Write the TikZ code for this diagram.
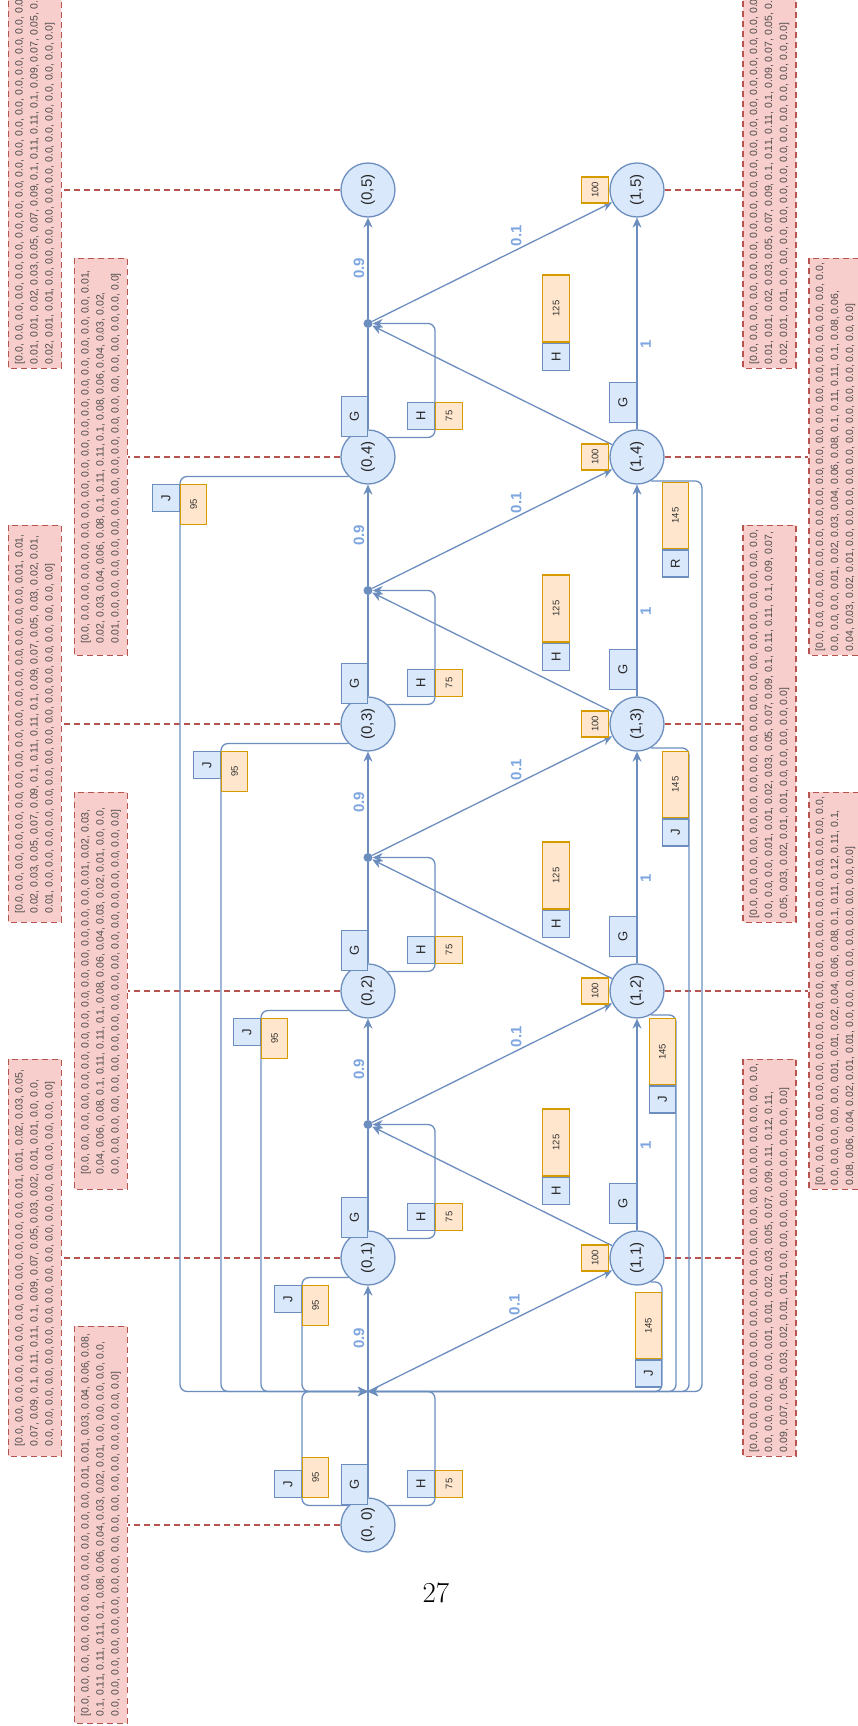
\documentclass[tikz,border=0pt]{standalone}
\usepackage{fontspec}
\newfontfamily\diafont{Liberation Sans}
\usetikzlibrary{arrows.meta,calc,positioning}

\definecolor{stfill}{HTML}{DAE8FC}
\definecolor{stline}{HTML}{6C8EBF}
\definecolor{costfill}{HTML}{FFE6CC}
\definecolor{costline}{HTML}{D79B00}
\definecolor{distfill}{HTML}{F8CECC}
\definecolor{distline}{HTML}{B85450}
\definecolor{probtext}{HTML}{7EA6E0}

% n entries 0.0 of a distribution
\newcommand\zz[1]{\foreach \i in {1,...,#1}{0.0, }}

\tikzset{
  state/.style={circle, draw=stline, fill=stfill, line width=1.3pt, minimum size=54pt, inner sep=0pt, text=black!85, font=\diafont\fontsize{15}{18}\selectfont},
  junct/.style={circle, fill=stline, inner sep=0pt, minimum size=9pt},
  wire/.style={draw=stline, line width=1.3pt, rounded corners=7pt},
  arr/.style={-{Stealth[length=10pt,width=9pt]}},
  actbox/.style={rectangle, draw=stline, fill=stfill, line width=1.3pt, inner sep=0pt, minimum width=27pt, minimum height=27pt, text=black!85, font=\diafont\fontsize{13}{15}\selectfont},
  costbox/.style={rectangle, draw=costline, fill=costfill, line width=1.3pt, inner sep=0pt, minimum width=27pt, minimum height=27pt, text=black!80, font=\diafont\fontsize{9.5}{11}\selectfont},
  prob/.style={text=probtext, inner sep=3pt, font=\diafont\bfseries\fontsize{15}{18}\selectfont},
  dist/.style={rectangle, draw=distline, fill=distfill, line width=1.1pt, dash pattern=on 6pt off 4pt, align=left, inner sep=3pt, minimum width=397pt, minimum height=53pt, text=black!70, font=\diafont\fontsize{10.5}{15}\selectfont},
  distlink/.style={draw=distline, line width=1.1pt, dash pattern=on 6pt off 4pt},
}

\begin{document}
\begin{tikzpicture}[x=1pt,y=1pt]
\fill[white] (-857,0) rectangle (0,1726);
\useasboundingbox (-857,0) rectangle (0,1726);
\node[font=\fontsize{29}{34}\selectfont] (pageno) at (-421,133) {27};

\begin{scope}[rotate=90, transform shape]
  % states
  \node[state] (t0) at (201,489) {(0, 0)};
  \foreach \k in {1,...,5} {
    \node[state] (t\k) at ({201+267*\k},489) {(0,\k)};
    \node[state] (b\k) at ({201+267*\k},220) {(1,\k)};
  }
  % chance points
  \coordinate (j0) at (334.5,489);
  \foreach \k in {1,...,4}
    \node[junct] (j\k) at ({334.5+267*\k},489) {};

  % distributions
  \node[dist] (d0) at (201,756) {[\zz{11}0.01, 0.01, 0.03, 0.04, 0.06, 0.08,\\ 0.1, 0.11, 0.11, 0.11, 0.1, 0.08, 0.06, 0.04, 0.03, 0.02, 0.01, \zz{5}\\ \zz{16}0.0]};
  \node[dist] (d1) at (468,822) {[\zz{12}0.01, 0.01, 0.02, 0.03, 0.05,\\ 0.07, 0.09, 0.1, 0.11, 0.11, 0.1, 0.09, 0.07, 0.05, 0.03, 0.02, 0.01, 0.01, \zz{2}\\ \zz{17}0.0]};
  \node[dist] (d2) at (735,756) {[\zz{14}0.01, 0.02, 0.03,\\ 0.04, 0.06, 0.08, 0.1, 0.11, 0.11, 0.1, 0.08, 0.06, 0.04, 0.03, 0.02, 0.01, \zz{2}\\ \zz{17}0.0]};
  \node[dist] (d3) at (1002,822) {[\zz{16}0.01, 0.01,\\ 0.02, 0.03, 0.05, 0.07, 0.09, 0.1, 0.11, 0.11, 0.1, 0.09, 0.07, 0.05, 0.03, 0.02, 0.01,\\ 0.01, \zz{15}0.0]};
  \node[dist] (d4) at (1269,756) {[\zz{17}0.01,\\ 0.02, 0.03, 0.04, 0.06, 0.08, 0.1, 0.11, 0.11, 0.1, 0.08, 0.06, 0.04, 0.03, 0.02,\\ 0.01, \zz{16}0.0]};
  \node[dist] (d5) at (1556,822) {[\zz{18}0.0,\\ 0.01, 0.01, 0.02, 0.03, 0.05, 0.07, 0.09, 0.1, 0.11, 0.11, 0.1, 0.09, 0.07, 0.05, 0.03,\\ 0.02, 0.01, 0.01, \zz{12}0.0]};
  \node[dist] (e1) at (468,87.5) {[\zz{18}0.0,\\ \zz{5}0.01, 0.01, 0.02, 0.03, 0.05, 0.07, 0.09, 0.11, 0.12, 0.11,\\ 0.09, 0.07, 0.05, 0.03, 0.02, 0.01, 0.01, \zz{8}0.0]};
  \node[dist] (e2) at (735,21.5) {[\zz{18}0.0,\\ \zz{5}0.01, 0.01, 0.02, 0.04, 0.06, 0.08, 0.1, 0.11, 0.12, 0.11, 0.1,\\ 0.08, 0.06, 0.04, 0.02, 0.01, 0.01, \zz{8}0.0]};
  \node[dist] (e3) at (1002,87.5) {[\zz{18}0.0,\\ \zz{3}0.01, 0.01, 0.02, 0.03, 0.05, 0.07, 0.09, 0.1, 0.11, 0.11, 0.1, 0.09, 0.07,\\ 0.05, 0.03, 0.02, 0.01, 0.01, \zz{4}0.0]};
  \node[dist] (e4) at (1269,21.5) {[\zz{18}0.0,\\ \zz{3}0.01, 0.02, 0.03, 0.04, 0.06, 0.08, 0.1, 0.11, 0.11, 0.1, 0.08, 0.06,\\ 0.04, 0.03, 0.02, 0.01, \zz{11}0.0]};
  \node[dist] (e5) at (1556,87.5) {[\zz{18}0.0,\\ 0.01, 0.01, 0.02, 0.03, 0.05, 0.07, 0.09, 0.1, 0.11, 0.11, 0.1, 0.09, 0.07, 0.05, 0.03,\\ 0.02, 0.01, 0.01, \zz{12}0.0]};
  \foreach \k in {0,...,5}
    \draw[distlink] (t\k) -- (t\k |- d\k.south);
  \foreach \k in {1,...,5}
    \draw[distlink] (b\k) -- (b\k |- e\k.north);

  % chance branches
  \foreach \k [evaluate=\k as \nx using int(\k+1)] in {0,...,4} {
    \draw[wire,arr] (j\k) -- (t\nx) node[midway,above,prob] {0.9};
    \draw[wire,arr] (j\k) -- (b\nx) node[pos=0.6,right,prob] {0.1};
  }
  % actions of row 0
  \foreach \k in {0,...,4} {
    \draw[wire] (t\k) -- (j\k);
    \draw[wire,arr] (t\k.-45) |- ($(j\k)+(0,-67)$) -- (j\k);
  }
  \draw[wire,arr] (t0.45) |- ($(j0)+(0,66)$) -- (j0);
  \foreach \k/\dy in {1/66,2/107,3/147,4/188}
    \draw[wire,arr] (t\k.135) |- ($(j0)+(0,\dy)$) -- (j0);
  % actions of row 1
  \foreach \k [evaluate=\k as \nx using int(\k+1)] in {1,...,4} {
    \draw[wire,arr] (b\k) -- (b\nx) node[pos=0.4,below,prob] {1};
    \draw[wire,arr] (b\k) -- (j\k);
  }
  \foreach \k/\dy in {1/-294,2/-308,3/-321,4/-334}
    \draw[wire,arr] (b\k.-150) |- ($(j0)+(0,\dy)$) -- (j0);

  % labels of row 0
  \foreach \k in {0,...,4} {
    \node[actbox,minimum width=40pt,minimum height=26pt,anchor=south west] (g\k) at ($(t\k)+(20,0)$) {G};
    \node[actbox,anchor=south west] (h\k) at ($(t\k)+(27,-67)$) {H};
    \node[costbox,anchor=north west] (hc\k) at (h\k.south west) {75};
  }
  \node[actbox,anchor=south west] (a0) at ($(t0)+(27,66)$) {J};
  \node[costbox,minimum width=40pt,minimum height=26pt,anchor=north west] (ac0) at (a0.south west) {95};
  \foreach \k/\dy in {1/66,2/107,3/147,4/188} {
    \node[actbox,anchor=south east] (a\k) at ($(t\k)+(-27,\dy)$) {J};
    \node[costbox,minimum width=40pt,minimum height=26pt,anchor=north east] (ac\k) at (a\k.south east) {95};
  }
  % labels of row 1
  \foreach \k in {1,...,5}
    \node[costbox,minimum width=26pt,anchor=south] (r\k) at (b\k.north) {100};
  \foreach \k in {1,...,4}
    \node[actbox,minimum width=40pt,anchor=south west] (bg\k) at ($(b\k)+(34,0)$) {G};
  \foreach \k/\sh in {1/0,2/0,3/0,4/33} {
    \node[actbox,anchor=north west] (bh\k) at ($(b\k)+(53+\sh,95)$) {H};
    \node[costbox,minimum width=67pt,anchor=north west] (bhc\k) at (bh\k.north east) {125};
  }
  \foreach \k/\dx/\dy/\lbl in {1/34/-25/J,2/27/-39/J,3/27/-52/J,4/25/-52/R} {
    \node[costbox,minimum width=66pt,minimum height=26pt,anchor=south east] (bc\k) at ($(b\k)+(-\dx,\dy)$) {145};
    \node[actbox,minimum height=26pt,anchor=south east] (ba\k) at (bc\k.south west) {\lbl};
  }
\end{scope}
\end{tikzpicture}
\end{document}
